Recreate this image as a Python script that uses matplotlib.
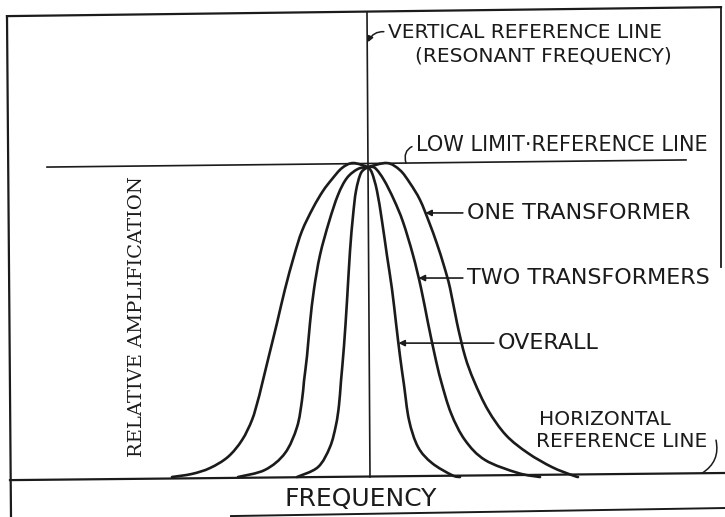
import numpy as np
import matplotlib.pyplot as plt
from matplotlib.path import Path
from matplotlib.patches import PathPatch

# frequency off resonance (arbitrary units) vs relative amplification
one_f = [-196, -176, -158, -140, -126, -116, -110, -107, -99, -91, -83, -74, -66, -55, -45, -36, -26, -15, 0,
         19, 32, 42, 52, 61, 69, 76, 82, 89, 97, 106, 120, 138, 160, 184, 204, 210]
one_a = [0.0, 0.010, 0.029, 0.065, 0.119, 0.184, 0.248, 0.286, 0.392, 0.497, 0.606, 0.713, 0.794, 0.868, 0.923, 0.961, 0.997, 1.013, 1.0,
         1.013, 0.990, 0.948, 0.894, 0.823, 0.752, 0.681, 0.610, 0.497, 0.390, 0.310, 0.216, 0.135, 0.077, 0.032, 0.006, 0.0]

two_f = [-130, -103, -83, -71, -66, -64, -61, -58, -54, -48, -39, -30, -21, -10, 0,
         7, 16, 26, 35, 45, 53, 60, 67, 73, 83, 97, 117, 150, 172]
two_a = [0.0, 0.023, 0.077, 0.161, 0.248, 0.310, 0.390, 0.497, 0.606, 0.716, 0.823, 0.910, 0.965, 0.994, 1.0,
         0.997, 0.958, 0.894, 0.823, 0.716, 0.610, 0.497, 0.390, 0.310, 0.206, 0.119, 0.055, 0.013, 0.0]

all_f = [-71, -50, -38, -32, -29, -27, -24, -21, -18, -15, -12, -7, 0,
         4, 9, 14, 19, 24, 28, 32, 36, 41, 50, 64, 84, 92]
all_a = [0.0, 0.032, 0.097, 0.168, 0.232, 0.310, 0.423, 0.568, 0.729, 0.842, 0.923, 0.981, 1.0,
         0.981, 0.923, 0.826, 0.714, 0.606, 0.497, 0.390, 0.297, 0.184, 0.097, 0.045, 0.006, 0.0]

# reference lines (hand drawn, slightly out of level)
low_limit_f = [-321, 318]
low_limit_a = [1.0, 1.023]
baseline_f = [-358, 357]
baseline_a = [-0.010, 0.013]

curve_labels = ['ONE TRANSFORMER', 'TWO TRANSFORMERS', 'OVERALL']
label_levels = [0.852, 0.642, 0.432]

INK = '#1b1b1b'
plt.rcParams['font.family'] = ['DejaVu Sans']

fig = plt.figure(figsize=(7.25, 5.17), dpi=100)
ax = fig.add_axes([0, 0, 1, 1])
ax.set_xlim(-368, 357)
ax.set_ylim(-0.129, 1.539)
ax.axis('off')


def smooth_path(x, y):
    # catmull-rom through the read points, drawn as bezier segments
    pts = np.column_stack([x, y]).astype(float)
    n = len(pts)
    verts = [pts[0]]
    codes = [Path.MOVETO]
    for i in range(n - 1):
        p0 = pts[max(i - 1, 0)]
        p1 = pts[i]
        p2 = pts[i + 1]
        p3 = pts[min(i + 2, n - 1)]
        verts += [p1 + (p2 - p0) / 6, p2 - (p3 - p1) / 6, p2]
        codes += [Path.CURVE4] * 3
    return Path(verts, codes)


def right_side(f, a, level):
    f = np.array(f)
    a = np.array(a)
    m = f > 0
    return np.interp(level, a[m][::-1], f[m][::-1])


# frame
ax.plot([-361, 353], [1.487, 1.516], color=INK, lw=1.6)
ax.plot([-361, -357], [1.487, -0.13], color=INK, lw=1.6)
ax.plot([353, 353], [1.516, 0.677], color=INK, lw=1.3)
ax.plot([-137, 357], [-0.126, -0.100], color=INK, lw=1.4)
ax.plot(baseline_f, baseline_a, color=INK, lw=1.6)

ax.plot([-1, 2], [1.50, 0.0], color=INK, lw=1.2)
ax.plot(low_limit_f, low_limit_a, color=INK, lw=1.2)

curves = [(one_f, one_a), (two_f, two_a), (all_f, all_a)]
for f, a in curves:
    f = np.array(f)
    a = np.array(a)
    c = int(np.where(f == 0)[0][0])
    for sl in [slice(0, c + 1), slice(c, None)]:
        ax.add_patch(PathPatch(smooth_path(f[sl], a[sl]), fill=False, edgecolor=INK,
                               lw=1.9, joinstyle='round', capstyle='round'))

text_x = [99, 99, 130]
for (f, a), lbl, lvl, tx in zip(curves, curve_labels, label_levels, text_x):
    ax.annotate(lbl, xy=(right_side(f, a, lvl), lvl), xytext=(tx, lvl),
                ha='left', va='center', fontsize=16, color=INK,
                arrowprops=dict(arrowstyle='-|>', color=INK, lw=1.2, mutation_scale=9,
                                relpos=(0, 0.5), shrinkA=1, shrinkB=0))

ax.annotate('VERTICAL REFERENCE LINE', xy=(0, 1.403), xytext=(20, 1.435),
            ha='left', va='center', fontsize=14.5, color=INK,
            arrowprops=dict(arrowstyle='-|>', color=INK, lw=1.1, mutation_scale=8,
                            relpos=(0, 0.5), shrinkA=1, shrinkB=0,
                            connectionstyle='arc3,rad=0.4'))
ax.text(175, 1.358, '(RESONANT FREQUENCY)', ha='center', va='center', fontsize=14.5, color=INK)

ax.annotate('LOW LIMIT·REFERENCE LINE', xy=(38, np.interp(38, low_limit_f, low_limit_a)),
            xytext=(48, 1.071), ha='left', va='center', fontsize=15, color=INK,
            arrowprops=dict(arrowstyle='-', color=INK, lw=1.1, relpos=(0, 0.5),
                            shrinkA=1, shrinkB=0, connectionstyle='arc3,rad=0.5'))

ax.text(171, 0.184, 'HORIZONTAL', ha='left', va='center', fontsize=14.5, color=INK)
ax.text(168, 0.113, 'REFERENCE LINE', ha='left', va='center', fontsize=14.5, color=INK)
ax.annotate('', xy=(334, np.interp(334, baseline_f, baseline_a)), xytext=(348, 0.119),
            arrowprops=dict(arrowstyle='-', color=INK, lw=1.1, shrinkA=0, shrinkB=0,
                            connectionstyle='arc3,rad=-0.35'))

ax.text(-7, -0.071, 'FREQUENCY', ha='center', va='center', fontsize=18, color=INK)
ax.text(-231, 0.519, 'RELATIVE AMPLIFICATION', rotation=90, ha='center', va='center',
        fontsize=14, color=INK, family='DejaVu Serif')

plt.savefig('out.png', dpi=100, facecolor='white')
